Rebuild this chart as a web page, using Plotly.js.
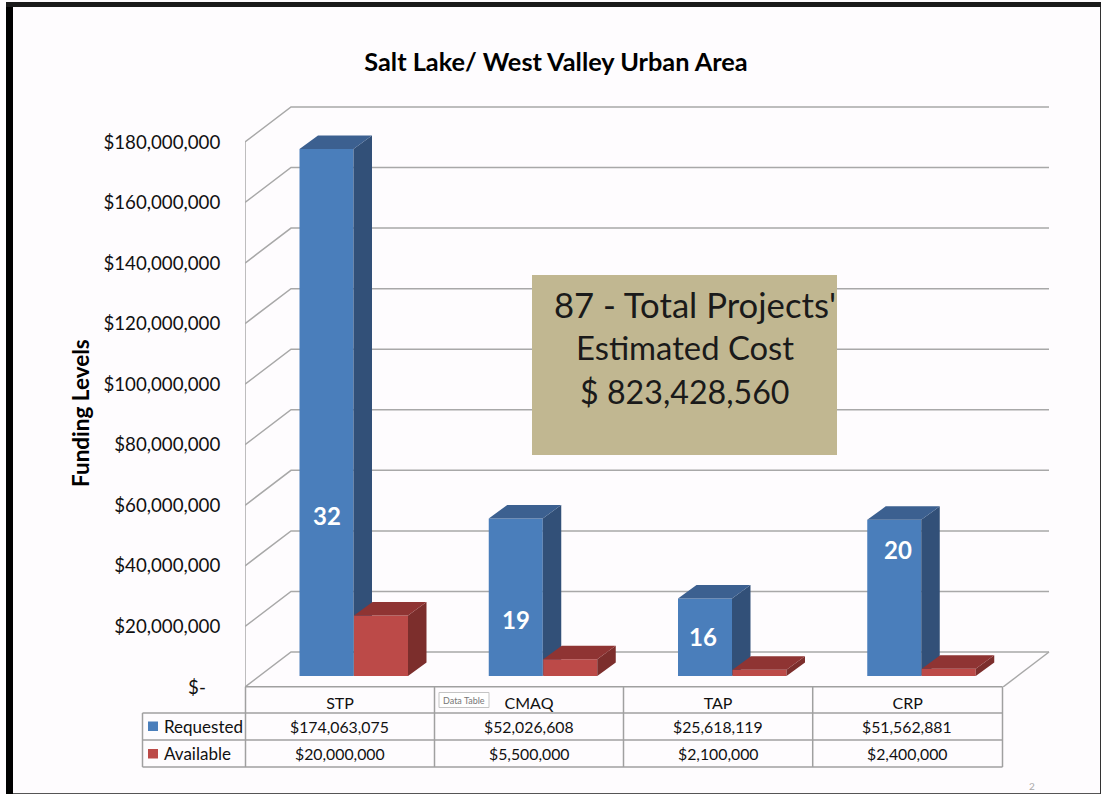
<!DOCTYPE html>
<html><head><meta charset="utf-8">
<script src="https://cdn.plot.ly/plotly-3.0.1.min.js"></script>
<style>html,body{margin:0;padding:0;background:#fefcfe;overflow:hidden}</style>
</head><body><div id="chart" style="width:1101px;height:794px"></div>
<script>
// ---- data ----
const categories = ['STP', 'CMAQ', 'TAP', 'CRP'];
const requested = [174063075, 52026608, 25618119, 51562881];
const available = [20000000, 5500000, 2100000, 2400000];
const projectCounts = [32, 19, 16, 20];
const countLabelHeights = [53000000, 18500000, 13000000, 41800000];
const axisTicks = [0, 20e6, 40e6, 60e6, 80e6, 100e6, 120e6, 140e6, 160e6, 180e6];
const totalCost = '$ 823,428,560';

// ---- geometry ----
const W = 1101, H = 794, L = 245, R = 1050, T = 100, B = 687;
const pxPerCat = 189.25, firstCatPx = 340.6, pxPerVal = 3.028e-6;
const xOf = px => (px - firstCatPx) / pxPerCat;
const dx = px => px / pxPerCat, dy = px => px / pxPerVal;
const xRange = [xOf(L), xOf(R)];
const yTop = (B - T) / pxPerVal;
const floorLift = 11;
const barW = 54;
const countLabelShift = [0, 0, -2, 4];
const blueOff = dx(326.5 - firstCatPx), redOff = dx(381 - firstCatPx);
const px = v => (v - L) / (R - L), py = v => (B - v) / (B - T);

const money = v => '$' + v.toLocaleString('en-US');
const font = 'Lato, "Open Sans", sans-serif';

function faces(centers, values, depthX, depthY) {
  const side = {x: [], y: []}, top = {x: [], y: []};
  centers.forEach((c, i) => {
    const l = c - dx(barW) / 2, r = c + dx(barW) / 2, v = values[i];
    const ox = dx(depthX), oy = dy(depthY);
    side.x.push(r, r + ox, r + ox, r, r, null);
    side.y.push(0, oy, v + oy, v, 0, null);
    top.x.push(l, l + ox, r + ox, r, l, null);
    top.y.push(v, v + oy, v + oy, v, v, null);
  });
  return {side, top};
}
const poly = (p, color, yaxis) => ({type: 'scatter', mode: 'lines', x: p.x, y: p.y, fill: 'toself', fillcolor: color,
  line: {width: 0, color}, yaxis, hoverinfo: 'skip', showlegend: false, cliponaxis: false});

const idx = categories.map((_, i) => i);
const blueX = idx.map(i => i + blueOff), redX = idx.map(i => i + redOff);
const blueF = faces(blueX, requested, 18.5, 13.5), redF = faces(redX, available, 18.5, 13.5);

// walls + floor, built from the axis ticks
const wallX = [], wallY = [];
const backX = xRange[0] + dx(46), endX = xOf(1049), backLift = dy(35);
axisTicks.forEach(v => {
  wallX.push(xRange[0], backX, endX, null);
  wallY.push(v, v + backLift, v + backLift, null);
});
wallX.push(xRange[0], xRange[0], null, endX, xOf(1003));
wallY.push(0, axisTicks[axisTicks.length - 1], null, backLift, 0);

const traces = [
  {type: 'scatter', mode: 'lines', x: wallX, y: wallY, line: {color: '#a8a8a8', width: 1.5},
   hoverinfo: 'skip', showlegend: false, cliponaxis: false},
  {type: 'bar', name: 'Requested', x: blueX, y: requested, width: dx(barW), yaxis: 'y2',
   marker: {color: '#4a7ebb', line: {width: 0}}, hoverinfo: 'skip'},
  poly(blueF.side, '#325078', 'y2'),
  poly(blueF.top, '#3c6090', 'y2'),
  {type: 'bar', name: 'Available', x: redX, y: available, width: dx(barW), yaxis: 'y3',
   marker: {color: '#bc4a48', line: {width: 0}}, hoverinfo: 'skip'},
  poly(redF.side, '#7c2e2c', 'y3'),
  poly(redF.top, '#8f3433', 'y3')
];

// table rules
const gridLine = {color: '#a0a0a0', width: 1.5};
const rule = (x0, y0, x1, y1, line) => ({type: 'line', xref: 'paper', yref: 'paper', x0: px(x0), x1: px(x1), y0: py(y0), y1: py(y1), line: line || gridLine});
const rect = (x0, y0, x1, y1, fill, line) => ({type: 'rect', xref: 'paper', yref: 'paper', x0: px(x0), x1: px(x1), y0: py(y0), y1: py(y1), fillcolor: fill, line: line || {width: 0}});
const colEdges = [245.5, 434.5, 623.5, 812.7, 1002.5];
const shapes = [
  rect(6, 2, 13, 794, '#000000'),
  rect(6, 2, 1101, 7, '#1a1a1a'),
  rect(1100, 7, 1101, 794, '#333333'),
  rect(13, 793, 1100, 794, '#555555'),
  rule(245.5, 686.7, 1002.5, 686.7),
  rule(142.5, 713, 1002.5, 713),
  rule(142.5, 740, 1002.5, 740),
  rule(142.5, 767, 1002.5, 767),
  rule(142.5, 713, 142.5, 767)
];
colEdges.forEach(x => shapes.push(rule(x, 686.7, x, 767)));
shapes.push(rect(148, 721.5, 158, 731, '#4a7ebb'), rect(148, 749, 158, 758.5, '#bc4a48'));
shapes.push(rect(439, 692.5, 489, 707.5, '#ffffff', {color: '#c4c4c4', width: 1}));
shapes.push(rect(532, 275, 837, 455, '#c1b791'));

const note = (x, y, text, size, color, extra) => Object.assign({xref: 'paper', yref: 'paper', x: px(x), y: py(y), text, showarrow: false,
  xanchor: 'center', yanchor: 'middle', font: {family: font, size, color}}, extra || {});

const annotations = [];
categories.forEach((c, i) => {
  const cx = (colEdges[i] + colEdges[i + 1]) / 2 - 0.5;
  annotations.push(note(cx, 726, money(requested[i]), 15.8, '#111'));
  annotations.push(note(cx, 753, money(available[i]), 15.8, '#111'));
  annotations.push({xref: 'x', yref: 'y2', x: blueX[i] + dx(countLabelShift[i]), y: countLabelHeights[i], text: '<b>' + projectCounts[i] + '</b>',
    showarrow: false, font: {family: font, size: 24, color: '#ffffff'}});
});
annotations.push(note(161.5, 726, 'Requested', 17, '#111', {xanchor: 'left'}));
annotations.push(note(161.5, 753, 'Available', 17, '#111', {xanchor: 'left'}));
annotations.push(note(464, 700, 'Data Table', 9, '#777'));
annotations.push(note(1032, 786, '2', 10, '#aaaaaa'));
annotations.push(note(80, 413, '<b>Funding Levels</b>', 22.5, '#000', {textangle: -90}));
const total = projectCounts.reduce((a, b) => a + b, 0);
annotations.push(note(695, 304, total + " - Total Projects'", 34.7, '#1a1a1a'));
annotations.push(note(684.5, 347, 'Estimated Cost', 32.8, '#1a1a1a'));
annotations.push(note(685, 391, totalCost, 32.2, '#1a1a1a'));

const hiddenY = low => ({overlaying: 'y', visible: false, fixedrange: true, range: [low, low + yTop]});
const layout = {
  width: W, height: H, paper_bgcolor: '#fefcfe', plot_bgcolor: 'rgba(0,0,0,0)',
  margin: {l: L, r: W - R, t: T, b: H - B, pad: 0},
  showlegend: false, hovermode: false, barmode: 'overlay',
  font: {family: font, color: '#111'},
  title: {text: '<b>Salt Lake/ West Valley Urban Area</b>', x: 556 / W, y: 1 - 62 / H, xref: 'container', yref: 'container',
    xanchor: 'center', yanchor: 'middle', font: {family: font, size: 25.3, color: '#000'}},
  xaxis: {range: xRange, tickmode: 'array', tickvals: idx.map(i => xOf((colEdges[i] + colEdges[i + 1]) / 2)), ticktext: categories,
    showgrid: false, zeroline: false, showline: false, ticks: 'outside', ticklen: 2, tickcolor: 'rgba(0,0,0,0)',
    tickfont: {family: font, size: 16, color: '#111'}, fixedrange: true},
  yaxis: {range: [0, yTop], tickmode: 'array', tickvals: axisTicks,
    ticktext: axisTicks.map(v => v === 0 ? '$-\u00A0\u00A0\u00A0' : money(v)),
    showgrid: false, zeroline: false, showline: false, ticks: 'outside', ticklen: 20, tickcolor: 'rgba(0,0,0,0)',
    tickfont: {family: font, size: 18.7, color: '#111'}, fixedrange: true},
  yaxis2: hiddenY(-floorLift / pxPerVal),
  yaxis3: hiddenY(-floorLift / pxPerVal),
  shapes, annotations
};
Plotly.newPlot('chart', traces, layout, {displayModeBar: false, staticPlot: true});
</script></body></html>
